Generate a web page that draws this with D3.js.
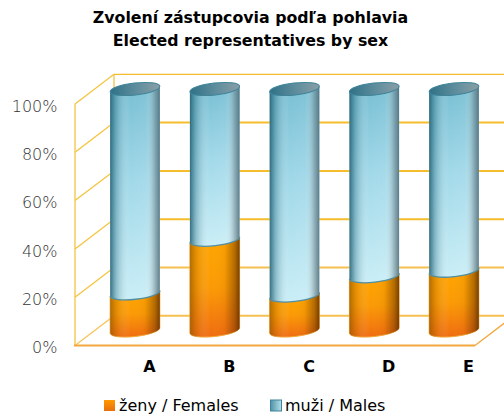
<!DOCTYPE html>
<html><head><meta charset="utf-8">
<script src="https://cdn.jsdelivr.net/npm/d3@7/dist/d3.min.js"></script>
<style>html,body{margin:0;background:#fff}svg{display:block}text{fill:#000}</style>
</head><body><script>
const categories = ["A","B","C","D","E"];
const females = [15.4, 37.6, 14.5, 22.5, 24.8];
const males = [84.6, 62.4, 85.5, 77.5, 75.2];
const tickValues = [0,20,40,60,80,100];
const titleLines = ["Zvolení zástupcovia podľa pohlavia","Elected representatives by sex"];
const legendLabels = ["ženy / Females","muži / Males"];

const W=504,H=415;
const font='"DejaVu Sans",sans-serif';
const svg=d3.select("body").append("svg").attr("width",W).attr("height",H);
const defs=svg.append("defs");
function grad(id,dir,stops){
  const g=defs.append("linearGradient").attr("id",id)
    .attr("x1",0).attr("y1",0).attr("x2",dir=="h"?1:0).attr("y2",dir=="h"?0:1);
  stops.forEach(s=>g.append("stop").attr("offset",s[0]).attr("stop-color",s[1]).attr("stop-opacity",s[2]===undefined?1:s[2]));
}
grad("mV","v",[[0,"#78bfd3"],[.45,"#a2d9e9"],[1,"#caeef6"]]);
grad("mH","h",[[0,"#1f5a6c",.85],[.12,"#2f7388",.4],[.4,"#fff",0],[.72,"#fff",0.05],[.9,"#6f7f86",.5],[1,"#4a6a78",.85]]);
grad("fV","v",[[0,"#ffa600"],[.5,"#fb9a04"],[1,"#f06c10"]]);
grad("fH","h",[[0,"#7a4a00",.6],[.14,"#a86000",.25],[.42,"#fff",0],[.7,"#5a2a00",.05],[.9,"#5a2a00",.45],[1,"#4a2000",.75]]);
grad("top","h",[[0,"#2f7186"],[.5,"#5c8c9c"],[1,"#8a9ea6"]]);
grad("sw1","v",[[0,"#ff9a00"],[1,"#e8700c"]]);
grad("sw2","h",[[0,"#4f93a8"],[1,"#b5dfea"]]);

const yFront=d3.scaleLinear().domain([0,100]).range([345.5,104]);
const yBack=d3.scaleLinear().domain([0,100]).range([315.8,74.3]);
const yMid=d3.scaleLinear().domain([0,100]).range([330.5,89]);
const x=d3.scalePoint().domain(categories).range([135,454]);
const xL=75,xB=114,xR=475;
const rx=25,ry=6,rot=-6.5;

const grid=svg.append("g").attr("fill","none");
tickValues.forEach(v=>{
  grid.append("line").attr("x1",xL).attr("y1",yFront(v)).attr("x2",xB).attr("y2",yBack(v))
    .attr("stroke",v==0?"#f6c45a":"#f5c440").attr("stroke-width",1.3);
  grid.append("line").attr("x1",xB).attr("y1",yBack(v)).attr("x2",W).attr("y2",yBack(v))
    .attr("stroke",v==0||v==20?"#f6c050":"#f5bd2c").attr("stroke-width",v==100?1.3:2);
});
grid.append("line").attr("x1",xL).attr("y1",yFront(0)).attr("x2",xL).attr("y2",yFront(100)).attr("stroke","#f5c440").attr("stroke-width",1.3);
grid.append("line").attr("x1",xB).attr("y1",yBack(0)).attr("x2",xB).attr("y2",yBack(100)).attr("stroke","#f5c440").attr("stroke-width",1.3);
grid.append("line").attr("x1",xL-1).attr("y1",yFront(0)).attr("x2",xR).attr("y2",yFront(0)).attr("stroke","#f2a83c").attr("stroke-width",2);
grid.append("line").attr("x1",xR).attr("y1",yFront(0)).attr("x2",xR+39).attr("y2",yBack(0)).attr("stroke","#f2a83c").attr("stroke-width",1.3);

const rad=rot*Math.PI/180, dx=rx*Math.cos(rad), dy=rx*Math.sin(rad);
categories.forEach((c,i)=>{
  const cx=x(c), g=svg.append("g");
  const yf=yMid(females[i]), yt=yMid(females[i]+males[i]), y0=yMid(0);
  const fp=`M${cx-dx} ${yf-dy}L${cx+dx} ${yf+dy}L${cx+dx} ${y0+dy}A${rx} ${ry} ${rot} 0 1 ${cx-dx} ${y0-dy}Z`;
  g.append("path").attr("d",fp).attr("fill","url(#fV)").attr("stroke","#f5a93a").attr("stroke-width",1);
  g.append("path").attr("d",fp).attr("fill","url(#fH)");
  const mp=`M${cx-dx} ${yt-dy}L${cx+dx} ${yt+dy}L${cx+dx} ${yf+dy}A${rx} ${ry} ${rot} 0 1 ${cx-dx} ${yf-dy}Z`;
  g.append("path").attr("d",mp).attr("fill","url(#mV)");
  g.append("path").attr("d",mp).attr("fill","url(#mH)");
  g.append("path").attr("d",`M${cx-dx} ${yf-dy}A${rx} ${ry} ${rot} 0 0 ${cx+dx} ${yf+dy}`)
    .attr("fill","none").attr("stroke","#4f8ea3").attr("stroke-width",1.3);
  g.append("ellipse").attr("cx",0).attr("cy",0).attr("rx",rx).attr("ry",ry)
    .attr("transform",`translate(${cx},${yt}) rotate(${rot})`)
    .attr("fill","url(#top)").attr("stroke","#3f8499").attr("stroke-width",1);
});

const yAxis=d3.axisLeft(yFront).tickValues(tickValues).tickSize(0).tickPadding(0).tickFormat(d=>d+"%");
svg.append("g").attr("transform","translate(57.5,1.5)").call(yAxis)
  .call(g=>g.select(".domain").remove())
  .call(g=>g.selectAll("text").attr("font-family",font).attr("font-size",16).attr("font-weight",200).style("fill","#333").attr("dy","0.35em"));
const xAxis=d3.axisBottom(d3.scalePoint().domain(categories).range([149,468])).tickSize(0).tickPadding(0);
svg.append("g").attr("transform","translate(0,361)").call(xAxis)
  .call(g=>g.select(".domain").remove())
  .call(g=>g.selectAll("text").attr("font-family",font).attr("font-size",16).attr("font-weight","bold").attr("dy","0.71em"));

svg.append("g").selectAll("text").data(titleLines).join("text")
  .attr("x",250.5).attr("y",(d,i)=>23+i*22.5).attr("text-anchor","middle")
  .attr("font-family",font).attr("font-weight","bold").attr("font-size",15.8).text(d=>d);

const lg=svg.append("g");
[[104,"url(#sw1)","#f59a20",119],[270.5,"url(#sw2)","#3f8499",285]].forEach((l,i)=>{
  lg.append("rect").attr("x",l[0]).attr("y",400).attr("width",11).attr("height",11).attr("fill",l[1]).attr("stroke",l[2]).attr("stroke-width",i?1:0);
  lg.append("text").attr("x",l[3]).attr("y",411).attr("font-family",font).attr("font-size",16).attr("fill","#222").text(legendLabels[i]);
});
</script></body></html>
